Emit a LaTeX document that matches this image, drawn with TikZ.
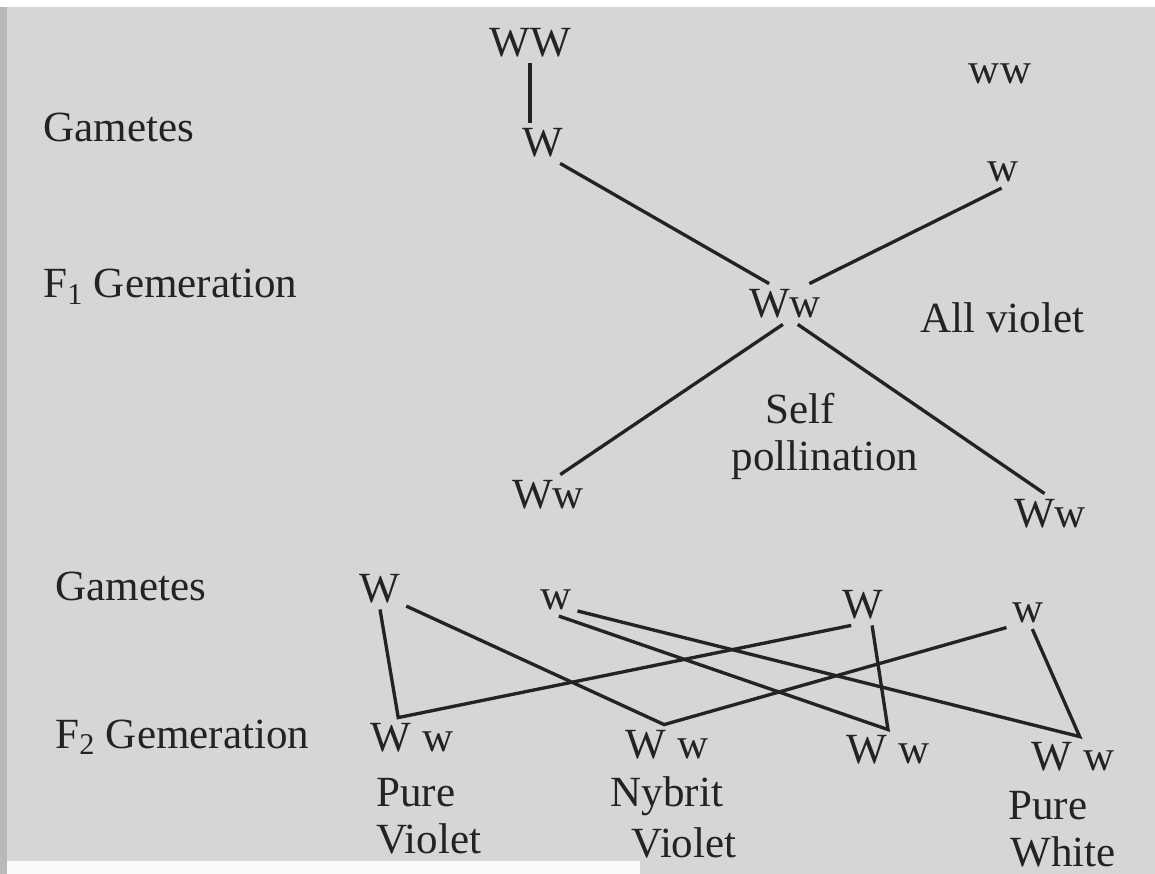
\documentclass[tikz,border=0pt]{standalone}
\usepackage{fontspec}
\setmainfont{Liberation Serif}
\definecolor{paper}{RGB}{214,215,212}
\definecolor{ink}{RGB}{35,35,35}

\tikzset{
  gene/.style={inner sep=0pt, outer sep=0.12cm, text=ink, font=\fontsize{24.5}{27}\selectfont},
  rowtext/.style={inner sep=0pt, text=ink, font=\fontsize{24.5}{27}\selectfont},
  cross/.style={draw=ink, line width=1.9pt}
}

\begin{document}
\begin{tikzpicture}[x=0.02cm, y=-0.02cm]

            % page
            \fill[paper] (0,0) rectangle (1155,874);
            \useasboundingbox (0,0) rectangle (1155,874);
            \fill[white] (0,0) rectangle (1155,7);
            \fill[gray!55] (0,7) rectangle (7,874);
            \fill[white!85!paper] (7,861) rectangle (640,874);

            % row titles
            \node[rowtext, anchor=base west] (gam1) at (43,142) {Gametes};
            \node[rowtext, anchor=base west] (gen1) at (43,298) {F\textsubscript{1} Gemeration};
            \node[rowtext, anchor=base west] (gam2) at (55,600) {Gametes};
            \node[rowtext, anchor=base west] (gen2) at (55,748) {F\textsubscript{2} Gemeration};

            % parents and F1
            \node[gene] (pWW) at (530,43) {WW};
            \node[gene] (g1W) at (543,143) {W};
            \node[gene] (pww) at (1000,74) {ww};
            \node[gene] (g1w) at (1003,172) {w};
            \node[gene] (f1) at (785,304) {Ww};
            \node[rowtext, anchor=base west] (allv) at (920,333) {All violet};
            \node[rowtext, anchor=base] (selfa) at (800,423) {Self};
            \node[rowtext, anchor=base] (selfb) at (825,470) {pollination};
            \node[gene] (f1l) at (548,495) {Ww};
            \node[gene] (f1r) at (1050,514) {Ww};

            \draw[cross] (pWW.south) -- (pWW.south |- g1W.north);
            \draw[cross] (g1W.-50) -- (f1.128);
            \draw[cross] (g1w.-95) -- (f1.40);
            \draw[cross] (f1.-96) -- (f1l.59);
            \draw[cross] (f1.-58) -- (f1r.105);

            % gametes of F1 and F2
            \node[gene] (g2W) at (380,589) {W};
            \node[gene] (g2w) at (556,600) {w};
            \node[gene] (g2Wb) at (863,605) {W};
            \node[gene] (g2wb) at (1028,613) {w};

            \node[gene] (f2a) at (412,738) {W w};
            \node[gene] (f2b) at (667,745) {W w};
            \node[gene] (f2c) at (888,750) {W w};
            \node[gene] (f2d) at (1073,757) {W w};

            \draw[cross] (g2W.south) -- (f2a.124) -- (g2Wb.-120);
            \draw[cross] (g2W.-33) -- (f2b.98) -- (g2wb.-146);
            \draw[cross] (g2w.-80) -- (f2c.north) -- (g2Wb.-66);
            \draw[cross] (g2w.-27) -- (f2d.72) -- (g2wb.-75);

            \node[rowtext, anchor=base west] (pv1) at (376,806) {Pure};
            \node[rowtext, anchor=base west] (pv2) at (376,853) {Violet};
            \node[rowtext, anchor=base] (nv1) at (667,806) {Nybrit};
            \node[rowtext, anchor=base] (nv2) at (684,857) {Violet};
            \node[rowtext, anchor=base west] (pw1) at (1008,819) {Pure};
            \node[rowtext, anchor=base west] (pw2) at (1010,866) {White};

\end{tikzpicture}
\end{document}
